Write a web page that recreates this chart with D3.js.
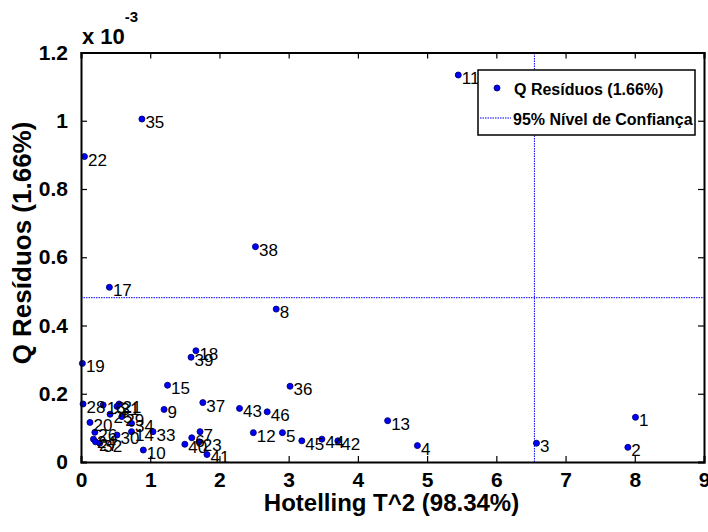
<!DOCTYPE html>
<html>
<head>
<meta charset="utf-8">
<script src="https://cdn.jsdelivr.net/npm/d3@7"></script>
<style>
  html, body { margin: 0; padding: 0; background: #fff; }
  svg { display: block; }
</style>
</head>
<body>
<svg id="chart" width="708" height="532"></svg>
<script>
// ---- data (sample number, Hotelling T^2, Q residuals ×1e-3) ----
const sampleIds = d3.range(1, 47);
const hotellingT2 = [
  8.01, 7.90, 6.58, 4.86, 2.91, 1.60, 1.72, 2.82, 1.20, 0.90,
  5.45, 2.49, 4.43, 0.73, 1.25, 0.32, 0.41, 1.66, 0.02, 0.13,
  0.55, 0.05, 1.71, 0.18, 0.42, 0.20, 0.21, 0.03, 0.59, 0.52,
  0.52, 0.27, 1.04, 0.73, 0.88, 3.02, 1.76, 2.52, 1.59, 1.50,
  1.82, 3.71, 2.29, 3.48, 3.19, 2.69
];
const qResiduals = [
  0.131, 0.043, 0.055, 0.048, 0.086, 0.071, 0.089, 0.448, 0.154, 0.035,
  1.134, 0.086, 0.121, 0.089, 0.225, 0.167, 0.512, 0.326, 0.289, 0.116,
  0.170, 0.895, 0.059, 0.067, 0.140, 0.087, 0.059, 0.170, 0.133, 0.079,
  0.163, 0.055, 0.089, 0.113, 1.005, 0.222, 0.174, 0.631, 0.307, 0.052,
  0.022, 0.062, 0.157, 0.067, 0.062, 0.147
];
const t2Limit = [6.55];
const qLimit = [0.4815];
const xTicks = [0, 1, 2, 3, 4, 5, 6, 7, 8, 9];
const yTicks = [0, 0.2, 0.4, 0.6, 0.8, 1.0, 1.2];
const xLabel = "Hotelling T^2 (98.34%)";
const yLabel = "Q Resíduos (1.66%)";
const legendLabels = ["Q Resíduos (1.66%)", "95% Nível de Confiança"];

(function () {
  const svg = d3.select("#chart");
  const L = 81, R = 704, T = 52.5, B = 462;
  const x = d3.scaleLinear().domain([0, 9]).range([L, R]);
  const y = d3.scaleLinear().domain([0, 1.2]).range([B, T]);
  const FONT = '"Liberation Sans", Arial, sans-serif';

  svg.append("rect").attr("width", 708).attr("height", 532).attr("fill", "#fff");

  // limit lines
  svg.append("line")
    .attr("x1", x(0)).attr("x2", x(9))
    .attr("y1", y(qLimit[0])).attr("y2", y(qLimit[0]))
    .attr("stroke", "#0000ff").attr("stroke-width", 1).attr("stroke-dasharray", "1.5,1");
  svg.append("line")
    .attr("x1", x(t2Limit[0])).attr("x2", x(t2Limit[0]))
    .attr("y1", y(0)).attr("y2", y(1.2))
    .attr("stroke", "#0000ff").attr("stroke-width", 1).attr("stroke-dasharray", "1.5,1");

  // points
  const pts = sampleIds.map((id, i) => ({ id, t: hotellingT2[i], q: qResiduals[i] }));
  svg.append("g").selectAll("circle").data(pts).join("circle")
    .attr("cx", d => x(d.t)).attr("cy", d => y(d.q)).attr("r", 3)
    .attr("fill", "#0000ff").attr("stroke", "#00006e").attr("stroke-width", 0.9);
  svg.append("g").selectAll("text").data(pts).join("text")
    .attr("x", d => x(d.t) + 3.5).attr("y", d => y(d.q) + 9)
    .attr("font-family", FONT).attr("font-size", 17).attr("fill", "#000")
    .text(d => d.id);

  // axes (box with inward ticks)
  const tickLen = 6;
  const gBottom = svg.append("g").attr("transform", `translate(0,${B})`)
    .call(d3.axisBottom(x).tickValues(xTicks).tickSize(-tickLen).tickPadding(10).tickFormat(d3.format("d")));
  const gTop = svg.append("g").attr("transform", `translate(0,${T})`)
    .call(d3.axisTop(x).tickValues(xTicks).tickSize(-tickLen).tickFormat(""));
  const gLeft = svg.append("g").attr("transform", `translate(${L},0)`)
    .call(d3.axisLeft(y).tickValues(yTicks).tickSize(-tickLen).tickPadding(13).tickFormat(d => d3.format("~g")(+d.toFixed(1))));
  const gRight = svg.append("g").attr("transform", `translate(${R},0)`)
    .call(d3.axisRight(y).tickValues(yTicks).tickSize(-tickLen).tickFormat(""));
  [gBottom, gTop, gLeft, gRight].forEach(g => {
    g.select(".domain").attr("stroke", "#000").attr("stroke-width", 2);
    g.selectAll(".tick line").attr("stroke", "#000").attr("stroke-width", 1.2);
    g.selectAll(".tick text").attr("font-family", FONT).attr("font-size", 21)
      .attr("font-weight", "bold").attr("fill", "#000");
  });

  // axis labels
  svg.append("text").attr("x", (L + R) / 2 - 1).attr("y", 511)
    .attr("text-anchor", "middle").attr("font-family", FONT).attr("font-size", 24)
    .attr("font-weight", "bold").text(xLabel);
  svg.append("text").attr("transform", `translate(31,243) rotate(-90)`)
    .attr("text-anchor", "middle").attr("font-family", FONT).attr("font-size", 26)
    .attr("font-weight", "bold").text(yLabel);

  // exponent
  const ex = svg.append("text").attr("x", 82).attr("y", 44)
    .attr("font-family", FONT).attr("font-size", 22).attr("font-weight", "bold");
  ex.append("tspan").text("x 10");
  ex.append("tspan").attr("dy", -22).attr("font-size", 15).text("-3");

  // legend
  const lg = svg.append("g");
  const lx = 478, ly = 70, lw = 217, lh = 65;
  lg.append("rect").attr("x", lx).attr("y", ly).attr("width", lw).attr("height", lh)
    .attr("fill", "#fff").attr("stroke", "#000").attr("stroke-width", 1.5);
  lg.append("circle").attr("cx", lx + 19).attr("cy", ly + 18).attr("r", 3)
    .attr("fill", "#0000ff").attr("stroke", "#00006e").attr("stroke-width", 0.9);
  lg.append("line").attr("x1", lx + 2).attr("x2", lx + 33).attr("y1", ly + 48).attr("y2", ly + 48)
    .attr("stroke", "#0000ff").attr("stroke-width", 1).attr("stroke-dasharray", "1.5,1");
  lg.selectAll("text.lt").data(legendLabels).join("text").attr("class", "lt")
    .attr("x", (d, i) => lx + 36 - i)
    .attr("y", (d, i) => ly + 25 + i * 30)
    .attr("font-family", FONT).attr("font-size", 16).attr("font-weight", "bold")
    .text(d => d);
})();
</script>
</body>
</html>
